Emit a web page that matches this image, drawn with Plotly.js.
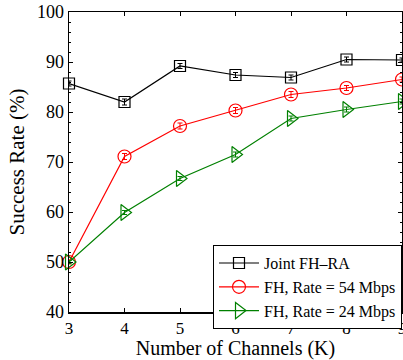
<!DOCTYPE html>
<html>
<head>
<meta charset="utf-8">
<script src="https://cdn.plot.ly/plotly-3.0.1.min.js"></script>
<style>html,body{margin:0;padding:0;background:#fff;}#chart{width:403px;height:360px;}</style>
</head>
<body>
<div id="chart"></div>
<script>
const channels = [3, 4, 5, 6, 7, 8, 9];
const jointFHRA = [85.7, 82.0, 89.2, 87.4, 86.9, 90.5, 90.4];
const fh54 = [50.0, 71.1, 77.2, 80.3, 83.5, 84.8, 86.5];
const fh24 = [50.0, 59.9, 66.7, 71.5, 78.7, 80.5, 82.1];
const errJoint = [0.5, 0.6, 0.5, 0.5, 0.5, 0.5, 0.4];
const err54 = [0.4, 0.6, 0.6, 0.6, 0.6, 0.5, 0.5];
const err24 = [0.3, 0.4, 0.4, 0.5, 0.5, 0.5, 0.5];
const seriesNames = ['Joint FH\u2013RA', 'FH, Rate = 54 Mbps', 'FH, Rate = 24 Mbps'];
const yTicks = [40, 50, 60, 70, 80, 90, 100];

function mk(y, err, name, color, symbol, size) {
  return {
    x: channels, y: y, name: name, type: 'scatter', mode: 'lines+markers',
    line: {color: color, width: 1.2},
    marker: {symbol: symbol, size: size, color: color, line: {color: color, width: 1.2}},
    error_y: {type: 'data', array: err, visible: true, color: color, thickness: 1, width: 2.5},
    cliponaxis: false
  };
}

const data = [
  mk(jointFHRA, errJoint, seriesNames[0], '#000000', 'square-open', 11),
  mk(fh54, err54, seriesNames[1], '#ff0000', 'circle-open', 13),
  mk(fh24, err24, seriesNames[2], '#008000', 'triangle-right-open', 14)
];

const font = {family: '"Liberation Serif", "Times New Roman", serif', color: '#000'};

const layout = {
  width: 403, height: 360,
  margin: {l: 69, r: 1, t: 12, b: 48, pad: 0},
  paper_bgcolor: '#fff', plot_bgcolor: '#fff',
  font: Object.assign({size: 16}, font),
  showlegend: true,
  legend: {
    x: 1, xanchor: 'right', y: 0.223, yanchor: 'top',
    bgcolor: '#fff', bordercolor: '#000', borderwidth: 1,
    font: Object.assign({size: 16}, font),
    tracegroupgap: 0, itemwidth: 40
  },
  xaxis: {
    range: [3, 9], tickvals: channels, ticktext: channels.map(String),
    ticks: 'inside', ticklen: 4, tickcolor: '#000', mirror: 'ticks',
    ticklabeloverflow: 'allow',
    showline: true, linecolor: '#000', linewidth: 1.5, showgrid: false, zeroline: false,
    tickfont: Object.assign({size: 17}, font),
    title: {text: 'Number of Channels (K)', font: Object.assign({size: 20}, font), standoff: 4}
  },
  yaxis: {
    range: [40, 100], tickvals: yTicks, ticktext: yTicks.map(String),
    ticks: 'inside', ticklen: 4, tickcolor: '#000', mirror: 'ticks',
    ticklabeloverflow: 'allow',
    showline: true, linecolor: '#000', linewidth: 1.5, showgrid: false, zeroline: false,
    tickfont: Object.assign({size: 18}, font),
    minor: {dtick: 2, ticks: 'inside', ticklen: 2, tickcolor: '#000', showgrid: false},
    title: {text: 'Success Rate (%)', font: Object.assign({size: 21}, font), standoff: 6}
  }
};

Plotly.newPlot('chart', data, layout, {displayModeBar: false, staticPlot: true});
</script>
</body>
</html>
